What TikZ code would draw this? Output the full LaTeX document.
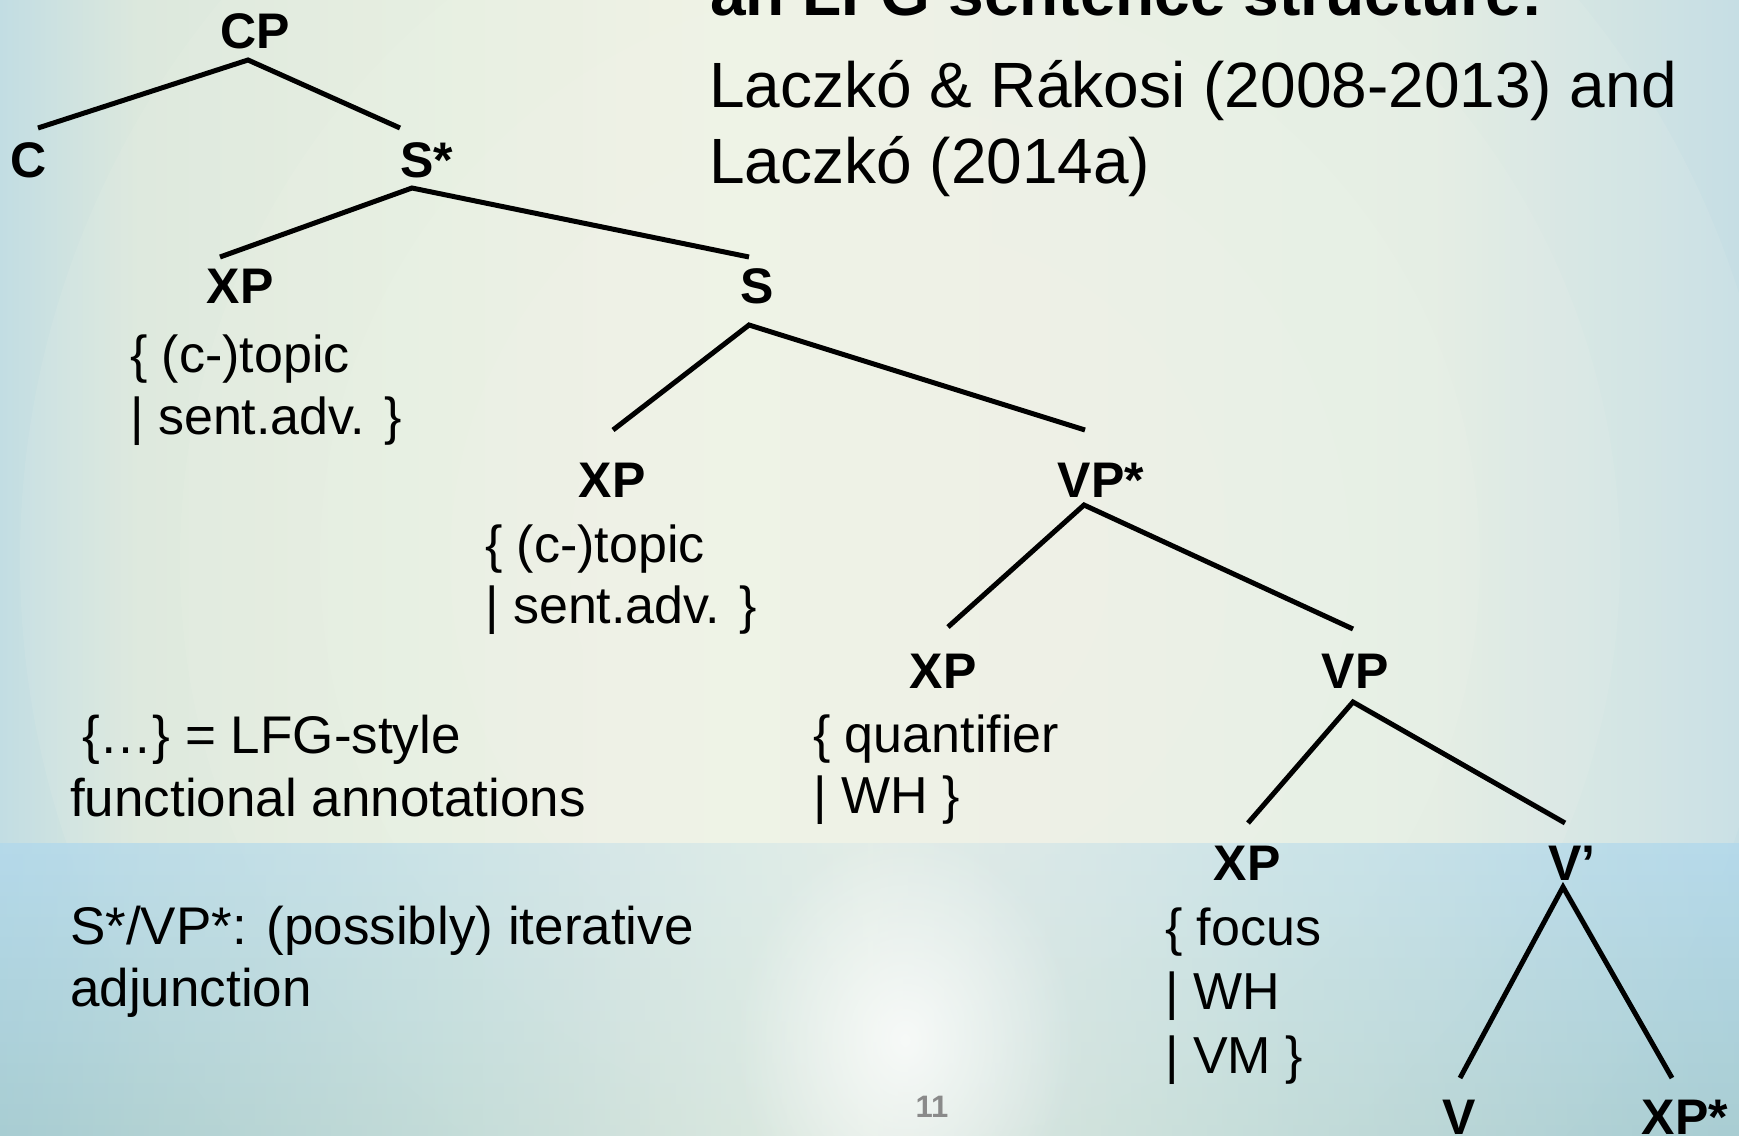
\documentclass[tikz,border=0pt]{standalone}
\usepackage{fontspec}
\setmainfont{Liberation Sans}
\usetikzlibrary{fadings}

\definecolor{wash0}{HTML}{C2DDE3}
\definecolor{wash1}{HTML}{DCE8DD}
\definecolor{wash2}{HTML}{EEF3E3}
\definecolor{wash3}{HTML}{E2ECE2}
\definecolor{wash4}{HTML}{C6DEE4}
\definecolor{bandtop}{HTML}{B3D9EB}
\definecolor{bandbot}{HTML}{A5CBD0}
\definecolor{ringtint}{HTML}{F7F9EF}
\definecolor{pagenum}{HTML}{8A8A8A}

% the middle 50bp of the shading spans the filled path
\pgfdeclarehorizontalshading{bgwash}{100bp}{%
  color(0bp)=(wash0); color(25bp)=(wash0); color(29bp)=(wash1);
  color(46bp)=(wash2); color(66bp)=(wash3); color(75bp)=(wash4);
  color(100bp)=(wash4)}

\tikzfading[name=softglow, inner color=transparent!0, outer color=transparent!100]
\tikzfading[name=bandfade, left color=transparent!10, right color=transparent!10, middle color=transparent!80]

\begin{document}
\begin{tikzpicture}[x=1pt, y=-1pt,
  cat/.style={inner sep=0pt, anchor=base, font=\fontsize{50}{60}\selectfont\bfseries},
  ann/.style={inner sep=0pt, anchor=base west, font=\fontsize{52}{62}\selectfont},
  note/.style={inner sep=0pt, anchor=base west, font=\fontsize{53}{64}\selectfont},
  cite/.style={inner sep=0pt, anchor=base west, font=\fontsize{64}{76}\selectfont},
  heading/.style={inner sep=0pt, anchor=base west, font=\fontsize{64}{76}\selectfont\bfseries},
  branch/.style={line width=5pt, black, line join=miter}]

\useasboundingbox (0,0) rectangle (1739,1135);
\clip (0,0) rectangle (1739,1135);

% background: soft horizontal wash with concentric light rings
\shade[shading=bgwash] (0,0) rectangle (1739,1135);
\foreach \r in {880,720,580,450,330,210}
  \fill[ringtint, opacity=0.1] (900,560) circle (\r);
% bluish lower band, lighter towards the middle
\shade[top color=bandtop, bottom color=bandbot, path fading=bandfade] (-30,843) rectangle (1770,1135);
\fill[white, path fading=softglow, opacity=0.75] (905,1040) ellipse [x radius=170, y radius=210];

% heading and references
\node[heading] (title) at (710,15) {an LFG sentence structure:};
\node[cite] (refa) at (709,107) {Laczkó \& Rákosi (2008-2013) and};
\node[cite] (refb) at (709,183) {Laczkó (2014a)};

% tree categories
\node[cat] (cp) at (255,48) {CP};
\node[cat] (c) at (29,177) {C};
\node[cat] (sstar) at (427,177) {S*};
\node[cat] (xpa) at (240,303) {XP};
\node[cat] (s) at (757,303) {S};
\node[cat] (xpb) at (612,497) {XP};
\node[cat] (vpstar) at (1101,497) {VP*};
\node[cat] (xpc) at (943,688) {XP};
\node[cat] (vp) at (1355,688) {VP};
\node[cat] (xpd) at (1247,880) {XP};
\node[cat] (vbar) at (1572,880) {V’};
\node[cat] (v) at (1459,1134) {V};
\node[cat] (xpstar) at (1685,1134) {XP*};

% branches
\draw[branch] ([shift={(9,-49)}]c.base) -- ([shift={(-7,12)}]cp.base) -- ([shift={(-27,-49)}]sstar.base);
\draw[branch] ([shift={(-20,-46)}]xpa.base) -- ([shift={(-15,11)}]sstar.base) -- ([shift={(-8,-46)}]s.base);
\draw[branch] ([shift={(1,-67)}]xpb.base) -- ([shift={(-8,22)}]s.base) -- ([shift={(-16,-67)}]vpstar.base);
\draw[branch] ([shift={(5,-61)}]xpc.base) -- ([shift={(-17,8)}]vpstar.base) -- ([shift={(-2,-59)}]vp.base);
\draw[branch] ([shift={(1,-57)}]xpd.base) -- ([shift={(-2,14)}]vp.base) -- ([shift={(-7,-57)}]vbar.base);
\draw[branch] ([shift={(1,-56)}]v.base) -- ([shift={(-9,7)}]vbar.base) -- ([shift={(-13,-56)}]xpstar.base);

% functional annotations
\node[ann] (anna1) at (130,372) {\{ (c-)topic};
\node[ann] (anna2) at (130,434) {| sent.adv. \}};
\node[ann] (annb1) at (485,562) {\{ (c-)topic};
\node[ann] (annb2) at (485,623) {| sent.adv. \}};
\node[ann] (annc1) at (813,752) {\{ quantifier};
\node[ann] (annc2) at (813,813) {| WH \}};
\node[ann] (annd1) at (1165,945) {\{ focus};
\node[ann] (annd2) at (1165,1009) {| WH};
\node[ann] (annd3) at (1165,1073) {| VM \}};

% legend
\node[note] (lega1) at (82,753) {\{…\} = LFG-style};
\node[note] (lega2) at (70,816) {functional annotations};
\node[note] (legb1) at (70,944) {S*/VP*: (possibly) iterative};
\node[note] (legb2) at (70,1006) {adjunction};

% slide number
\node[inner sep=0pt, anchor=base, font=\fontsize{31}{31}\selectfont\bfseries, text=pagenum] (pnum) at (932,1117) {11};
\end{tikzpicture}
\end{document}
